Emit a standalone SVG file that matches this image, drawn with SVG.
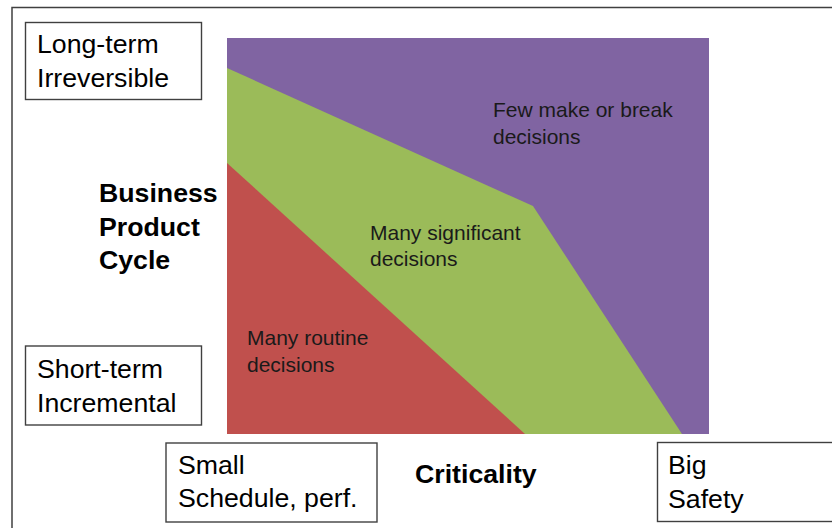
<svg xmlns="http://www.w3.org/2000/svg" width="832" height="528" viewBox="0 0 832 528">
<style>
.box{fill:#fff;stroke:#404040;stroke-width:1.4}
.lbl{font-family:"Liberation Sans",Arial,sans-serif;font-size:26.7px;fill:#000}
.bold{font-weight:bold}
.in{font-family:"Liberation Sans",Arial,sans-serif;font-size:21px;fill:#1a1a1a}
</style>
<rect x="0" y="0" width="832" height="528" fill="#fff"/>
<rect id="frame" x="12" y="7.5" width="860" height="560" fill="none" stroke="#404040" stroke-width="1.5"/>
<g id="chart">
<rect id="purple" x="227" y="38" width="482" height="396" fill="#8064A2"/>
<polygon id="green" points="227,68 533,206 682,434 227,434" fill="#9BBB59"/>
<polygon id="red" points="227,163 525,434 227,434" fill="#C0504D"/>
<text class="in" x="493" y="117">Few make or break</text>
<text class="in" x="493" y="144">decisions</text>
<text class="in" x="370" y="240">Many significant</text>
<text class="in" x="370" y="266">decisions</text>
<text class="in" x="247" y="345">Many routine</text>
<text class="in" x="247" y="372">decisions</text>
</g>
<g id="long-term">
<rect class="box" x="25.5" y="22.5" width="176" height="77"/>
<text class="lbl" x="37" y="53">Long-term</text>
<text class="lbl" x="37" y="87">Irreversible</text>
</g>
<g id="short-term">
<rect class="box" x="25.5" y="346" width="176" height="79"/>
<text class="lbl" x="37" y="378">Short-term</text>
<text class="lbl" x="37" y="412">Incremental</text>
</g>
<g id="small">
<rect class="box" x="166" y="443" width="211" height="79"/>
<text class="lbl" x="178" y="474">Small</text>
<text class="lbl" x="178" y="507">Schedule, perf.</text>
</g>
<g id="big">
<rect class="box" x="657.5" y="442.5" width="200" height="79"/>
<text class="lbl" x="668" y="474">Big</text>
<text class="lbl" x="668" y="508">Safety</text>
</g>
<g id="axis-y">
<text class="lbl bold" x="99" y="202">Business</text>
<text class="lbl bold" x="99" y="236">Product</text>
<text class="lbl bold" x="99" y="269">Cycle</text>
</g>
<g id="axis-x">
<text class="lbl bold" x="415" y="483">Criticality</text>
</g>
<g id="connectors"></g>
</svg>
